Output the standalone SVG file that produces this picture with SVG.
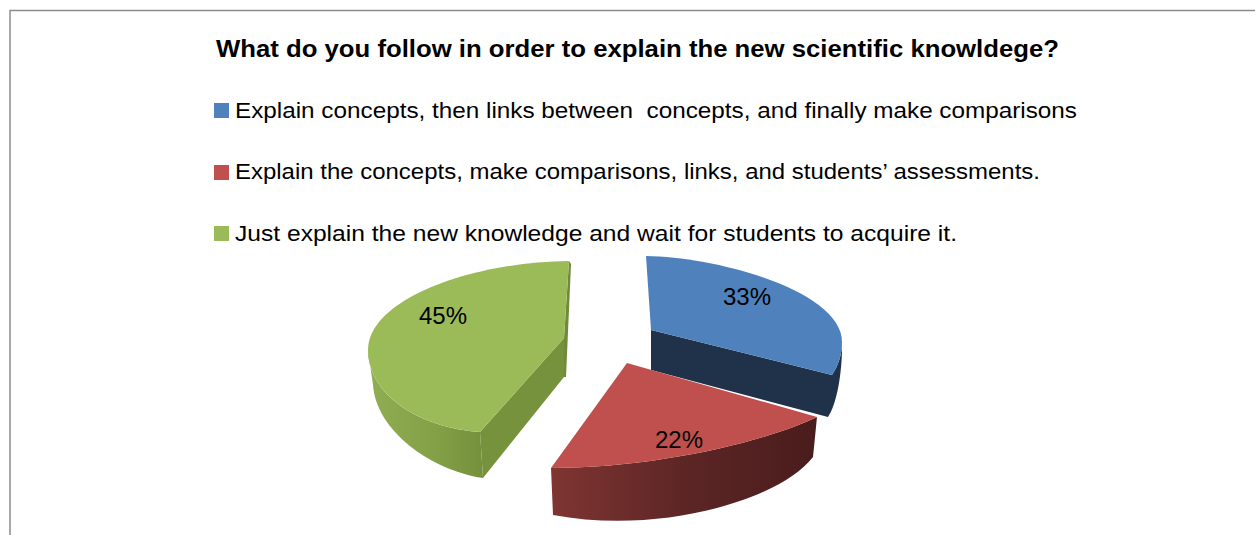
<svg xmlns="http://www.w3.org/2000/svg" width="1255" height="535" viewBox="0 0 1255 535">
  <style>
    .title { font-family: "Liberation Sans", Arial, sans-serif; font-weight: bold; font-size: 23px; fill: #000; }
    .leg { font-family: "Liberation Sans", Arial, sans-serif; font-size: 22px; fill: #000; }
    .lbl { font-family: "Liberation Sans", Arial, sans-serif; font-size: 24px; fill: #000; text-anchor: middle; }
    .frame { stroke: #8c8c8c; stroke-width: 1.5; fill: none; }
  </style>
  <defs>
    <linearGradient id="gSide" x1="368" y1="0" x2="483" y2="0" gradientUnits="userSpaceOnUse">
      <stop offset="0" stop-color="#8FAD53"/>
      <stop offset="0.6" stop-color="#83A047"/>
      <stop offset="1" stop-color="#74903B"/>
    </linearGradient>
    <linearGradient id="rSide" x1="551" y1="0" x2="817" y2="0" gradientUnits="userSpaceOnUse">
      <stop offset="0" stop-color="#7F3532"/>
      <stop offset="0.5" stop-color="#5C2625"/>
      <stop offset="1" stop-color="#4A1C1C"/>
    </linearGradient>
  </defs>

  <rect width="1255" height="535" fill="#ffffff"/>
  <path class="frame" d="M10,535 L10,10.5 L1255,10.5"/>

  <text class="title" x="216" y="57" textLength="843" lengthAdjust="spacingAndGlyphs">What do you follow in order to explain the new scientific knowldege?</text>

  <g id="legend">
    <g id="legend-blue">
      <rect x="214" y="103" width="15" height="15" fill="#4F81BD"/>
      <text class="leg" x="235" y="118" textLength="842" lengthAdjust="spacingAndGlyphs" xml:space="preserve">Explain concepts, then links between  concepts, and finally make comparisons</text>
    </g>
    <g id="legend-red">
      <rect x="214" y="165" width="15" height="15" fill="#C0504D"/>
      <text class="leg" x="235" y="179" textLength="805" lengthAdjust="spacingAndGlyphs">Explain the concepts, make comparisons, links, and students’ assessments.</text>
    </g>
    <g id="legend-green">
      <rect x="214" y="226" width="15" height="15" fill="#9BBB59"/>
      <text class="leg" x="235" y="241" textLength="722" lengthAdjust="spacingAndGlyphs">Just explain the new knowledge and wait for students to acquire it.</text>
    </g>
  </g>

  <g id="slice-green">
    <path d="M368,350 C368,395 420,428 480,432 L483,478 C430,470 376,430 373,385 Z" fill="url(#gSide)"/>
    <path d="M564,338 L480,432 L483,478 L564,377 Z" fill="#76923C"/>
    <path d="M569,261 L571,264 L566,377 L564,377 L564,338 Z" fill="#6F8A38"/>
    <path d="M569,261 C470,262 368,300 368,350 C368,395 420,428 480,432 L564,338 Z" fill="#9BBB59"/>
    <text class="lbl" x="443" y="324">45%</text>
  </g>

  <g id="slice-blue">
    <path d="M651,330 L832,375 C838,366 842,355 842,342 L842,352 C841,380 836,405 828,417 L651,370 Z" fill="#1F3249"/>
    <path d="M646,256 C720,257 842,292 842,342 C842,355 838,366 832,375 L651,330 Z" fill="#4F81BD"/>
    <text class="lbl" x="747" y="305">33%</text>
  </g>

  <g id="slice-red">
    <path d="M551,468 C660,468 770,440 817,417 L813,457 C780,500 660,535 553,515 Z" fill="url(#rSide)"/>
    <path d="M627,363 L817,417 C770,440 660,468 551,468 Z" fill="#C0504D"/>
    <text class="lbl" x="679" y="448">22%</text>
  </g>

  <g id="connectors"></g>
</svg>
